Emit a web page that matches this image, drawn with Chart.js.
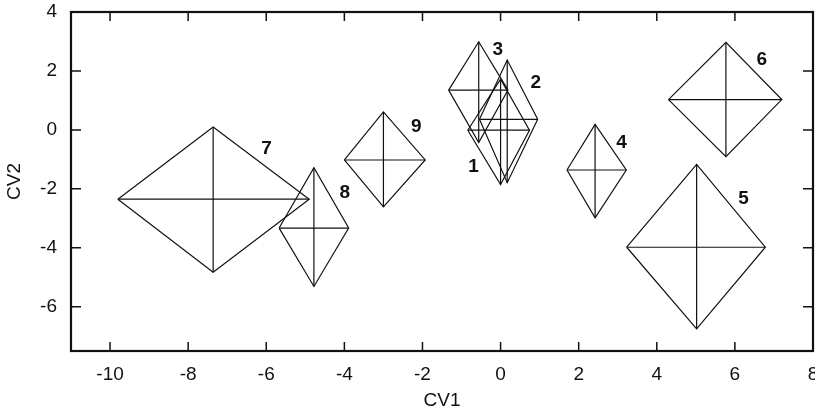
<!DOCTYPE html>
<html>
<head>
<meta charset="utf-8">
<script src="https://cdn.jsdelivr.net/npm/chart.js@4.4.1/dist/chart.umd.min.js"></script>
<style>
  body { margin: 0; background: #fff; }
  #wrap { width: 815px; height: 413px; }
</style>
</head>
<body>
<div id="wrap"><canvas id="cvChart"></canvas></div>
<script>
// group means and extents (CV1 = x, CV2 = y)
var groups = ["1", "2", "3", "4", "5", "6", "7", "8", "9"];
var cv1Mean = [0.0, 0.17, -0.56, 2.42, 5.02, 5.77, -7.36, -4.78, -3.0];
var cv2Mean = [-0.01, 0.36, 1.35, -1.36, -3.98, 1.03, -2.35, -3.33, -1.02];
var cv1Low  = [-0.84, -0.54, -1.33, 1.70, 3.23, 4.30, -9.8, -5.67, -4.0];
var cv1High = [0.74, 0.95, 0.19, 3.22, 6.78, 7.20, -4.9, -3.89, -1.93];
var cv2Low  = [-1.85, -1.79, -0.43, -2.98, -6.75, -0.91, -4.83, -5.31, -2.61];
var cv2High = [1.72, 2.37, 2.99, 0.19, -1.17, 2.97, 0.10, -1.28, 0.61];

// where the group numbers sit
var labelX = [-0.69, 0.90, -0.07, 3.10, 6.22, 6.69, -5.99, -3.99, -2.16];
var labelY = [-1.25, 1.61, 2.72, -0.43, -2.32, 2.38, -0.65, -2.14, 0.10];

var xTicks = [-10, -8, -6, -4, -2, 0, 2, 4, 6, 8];
var yTicks = [-6, -4, -2, 0, 2, 4];

var lineStyle = { showLine: true, borderColor: "#111", borderWidth: 1.2, pointRadius: 0, fill: false, tension: 0 };

var datasets = [];
for (var i = 0; i < groups.length; i++) {
  var L = { x: cv1Low[i], y: cv2Mean[i] };
  var R = { x: cv1High[i], y: cv2Mean[i] };
  var T = { x: cv1Mean[i], y: cv2High[i] };
  var B = { x: cv1Mean[i], y: cv2Low[i] };
  datasets.push(Object.assign({ label: groups[i], data: [L, T, R, B, L] }, lineStyle));
  datasets.push(Object.assign({ label: groups[i] + "h", data: [L, R] }, lineStyle));
  datasets.push(Object.assign({ label: groups[i] + "v", data: [T, B] }, lineStyle));
}

// frame, inward ticks on all four sides, and the group numbers
var framePlugin = {
  id: "frame",
  afterDraw: function(chart) {
    var c = chart.ctx, a = chart.chartArea;
    var xs = chart.scales.x, ys = chart.scales.y;
    c.save();
    c.strokeStyle = "#111";
    c.lineWidth = 1.5;
    xTicks.forEach(function(v) {
      var px = xs.getPixelForValue(v);
      c.beginPath();
      c.moveTo(px, a.bottom); c.lineTo(px, a.bottom - 9);
      c.moveTo(px, a.top); c.lineTo(px, a.top + 9);
      c.stroke();
    });
    yTicks.forEach(function(v) {
      var py = ys.getPixelForValue(v);
      c.beginPath();
      c.moveTo(a.left, py); c.lineTo(a.left + 10, py);
      c.moveTo(a.right, py); c.lineTo(a.right - 10, py);
      c.stroke();
    });
    c.lineWidth = 2.2;
    c.strokeRect(a.left, a.top, a.right - a.left, a.bottom - a.top);

    c.fillStyle = "#111";
    c.font = "bold 19px 'Liberation Sans', Arial, sans-serif";
    c.textAlign = "center";
    c.textBaseline = "middle";
    for (var i = 0; i < groups.length; i++) {
      c.fillText(groups[i], xs.getPixelForValue(labelX[i]), ys.getPixelForValue(labelY[i]));
    }
    c.restore();
  }
};

var tickFont = { family: "'Liberation Sans', Arial, sans-serif", size: 19 };

new Chart(document.getElementById("cvChart").getContext("2d"), {
  type: "scatter",
  data: { datasets: datasets },
  options: {
    responsive: true,
    maintainAspectRatio: false,
    animation: false,
    layout: { autoPadding: false, padding: { top: 12, right: 2, left: 0, bottom: 0 } },
    plugins: { legend: { display: false }, tooltip: { enabled: false } },
    scales: {
      x: {
        type: "linear", min: -11, max: 8,
        afterBuildTicks: function(s) { s.ticks = xTicks.map(function(v) { return { value: v }; }); },
        afterFit: function(s) { s.height = 62; s.paddingLeft = 0; s.paddingRight = 0; },
        grid: { display: false, drawTicks: false },
        border: { display: false },
        ticks: { color: "#111", font: tickFont, padding: 12, maxRotation: 0 },
        title: { display: true, text: "CV1", color: "#111", font: tickFont, padding: { top: 0, bottom: 1 } }
      },
      y: {
        type: "linear", min: -7.5, max: 4,
        afterBuildTicks: function(s) { s.ticks = yTicks.map(function(v) { return { value: v }; }); },
        afterFit: function(s) { s.width = 71; s.paddingTop = 0; s.paddingBottom = 0; },
        grid: { display: false, drawTicks: false },
        border: { display: false },
        ticks: { color: "#111", font: tickFont, padding: 14 },
        title: { display: true, text: "CV2", color: "#111", font: tickFont, padding: { top: 3, bottom: 0 } }
      }
    }
  },
  plugins: [framePlugin]
});
</script>
</body>
</html>
